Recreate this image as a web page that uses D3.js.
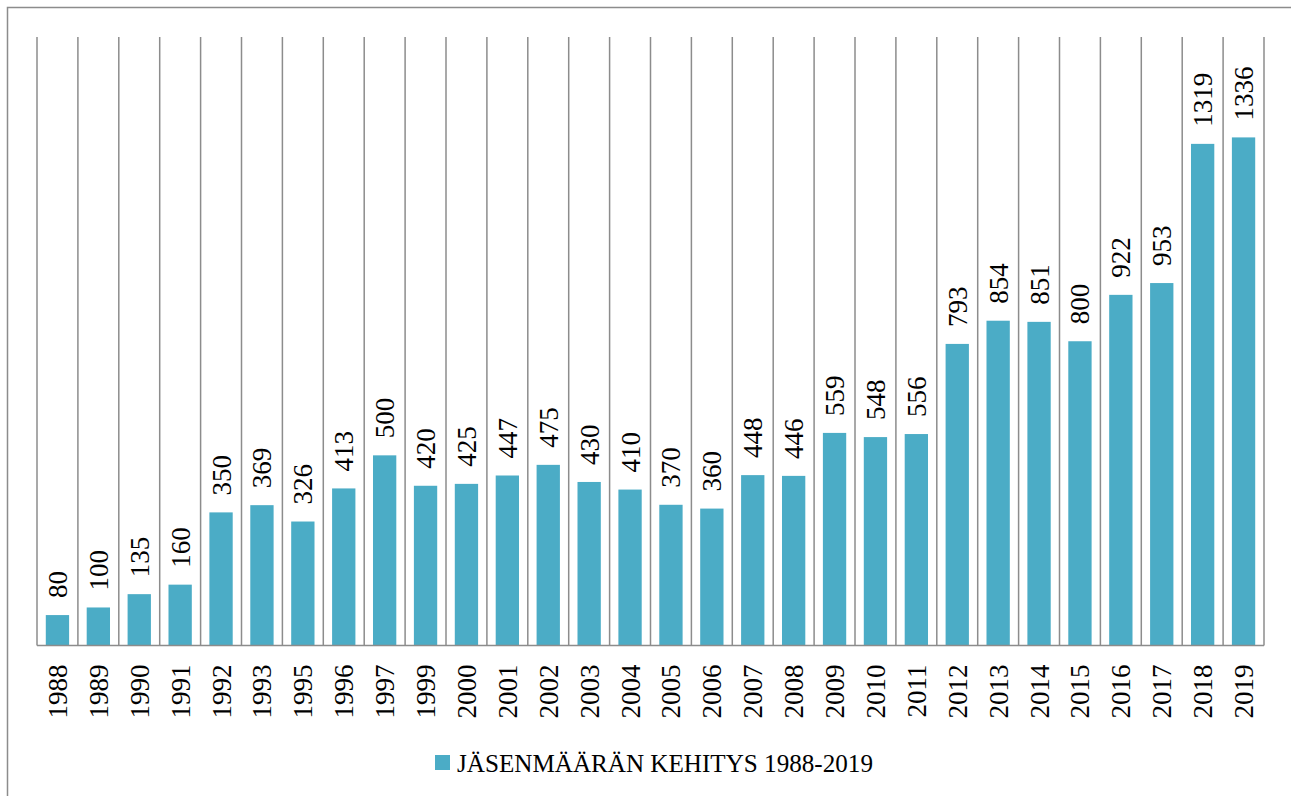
<!DOCTYPE html>
<html><head><meta charset="utf-8">
<script src="https://cdn.jsdelivr.net/npm/d3@7"></script>
<style>body{margin:0;background:#fff}svg{display:block}</style>
</head><body>
<svg id="c" width="1291" height="796"></svg>
<script>
const years = ["1988","1989","1990","1991","1992","1993","1995","1996","1997","1999","2000","2001","2002","2003","2004","2005","2006","2007","2008","2009","2010","2011","2012","2013","2014","2015","2016","2017","2018","2019"];
const members = [80,100,135,160,350,369,326,413,500,420,425,447,475,430,410,370,360,448,446,559,548,556,793,854,851,800,922,953,1319,1336];
const seriesName = "JÄSENMÄÄRÄN KEHITYS 1988-2019";
const yMax = 1600;

const svg = d3.select("#c");
const font = "'Liberation Serif','DejaVu Serif',serif";
const grid = "#8c8c8c";
const barColor = "#4bacc6";

svg.append("rect").attr("x",7.5).attr("y",7.5).attr("width",1400).attr("height",900)
  .attr("fill","none").attr("stroke",grid).attr("stroke-width",1.5);

const L=37, R=1264, T=37, B=645.5;
const x = d3.scaleBand().domain(years).range([L,R]).paddingInner(0.43).paddingOuter(0.215);
const xb = d3.scaleBand().domain(years).range([L,R]);
const y = d3.scaleLinear().domain([0,yMax]).range([B,T]);

const bounds = years.map(d=>xb(d)).concat([R]);
svg.append("g").selectAll("line").data(bounds).join("line")
  .attr("x1",d=>d).attr("x2",d=>d).attr("y1",T).attr("y2",B)
  .attr("stroke",grid).attr("stroke-width",1.5);

svg.append("g").selectAll("rect").data(years).join("rect")
  .attr("x",d=>x(d)).attr("width",x.bandwidth())
  .attr("y",(d,i)=>y(members[i])).attr("height",(d,i)=>B-y(members[i]))
  .attr("fill",barColor);

svg.append("line").attr("x1",L).attr("x2",R).attr("y1",B).attr("y2",B)
  .attr("stroke",grid).attr("stroke-width",1.5);

svg.append("g").selectAll("text").data(years).join("text")
  .attr("transform",(d,i)=>`translate(${x(d)+x.bandwidth()/2+9.5},${y(members[i])-17}) rotate(-90)`)
  .attr("font-family",font).attr("font-size",27).attr("fill","#000")
  .text((d,i)=>members[i]);

svg.append("g").selectAll("text").data(years).join("text")
  .attr("transform",d=>`translate(${x(d)+x.bandwidth()/2+9.5},${B+19}) rotate(-90)`)
  .attr("text-anchor","end")
  .attr("font-family",font).attr("font-size",27).attr("fill","#000")
  .text(d=>d);

svg.append("rect").attr("x",435).attr("y",755).attr("width",15).attr("height",15).attr("fill",barColor);
svg.append("text").attr("x",457).attr("y",772).attr("font-family",font).attr("font-size",25)
  .attr("textLength",416).attr("lengthAdjust","spacingAndGlyphs")
  .attr("fill","#000").text(seriesName);
</script>
</body></html>
